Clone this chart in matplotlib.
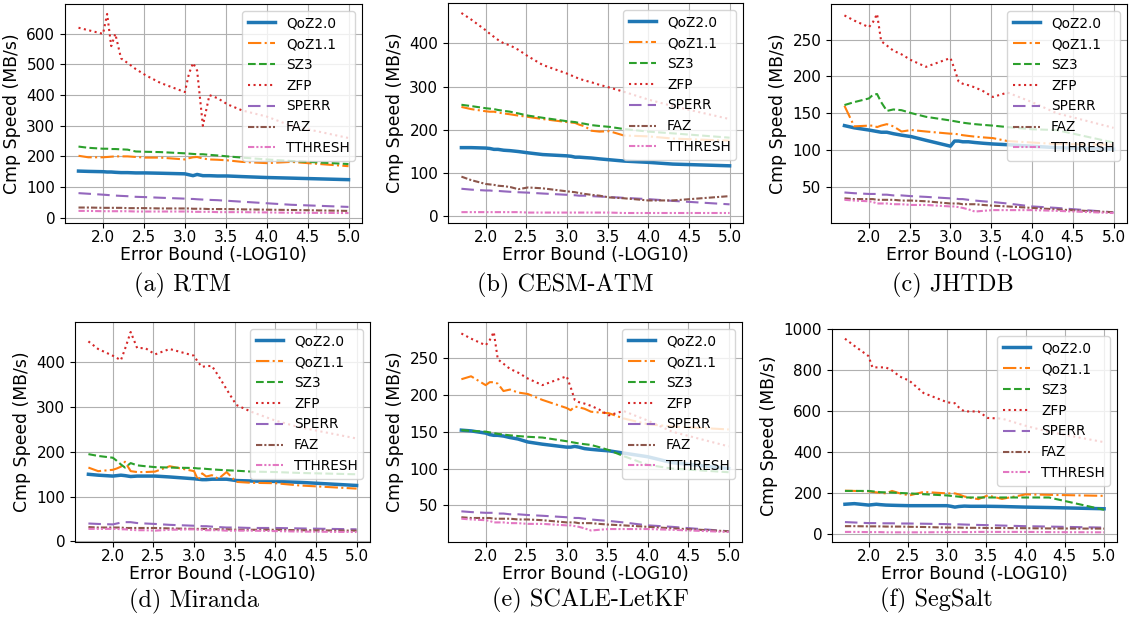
import matplotlib
matplotlib.use("Agg")
import matplotlib.pyplot as plt
from matplotlib.ticker import MultipleLocator

# ---------------------------------------------------------------------------
# Data
# ---------------------------------------------------------------------------
EB_X = [1.70, 1.82, 2.00, 2.05, 2.10, 2.15, 2.22, 2.30, 2.40, 2.52, 2.70, 3.00,
        3.05, 3.10, 3.15, 3.22, 3.30, 3.40, 3.52, 3.70, 4.00, 4.30, 5.00]

COMPRESSORS = ["QoZ2.0", "QoZ1.1", "SZ3", "ZFP", "SPERR", "FAZ", "TTHRESH"]
CAPTIONS = ["(a) RTM", "(b) CESM-ATM", "(c) JHTDB",
            "(d) Miranda", "(e) SCALE-LetKF", "(f) SegSalt"]

RTM_QOZ2 = [152, 151, 150, 149, 149, 148, 147, 147, 146, 146, 145, 143, 140, 137, 141, 137, 137, 136, 136, 134, 131, 129, 124]
RTM_QOZ1 = [202, 197, 197, 198, 199, 200, 200, 200, 198, 196, 196, 190, 194, 197, 198, 193, 190, 189, 187, 182, 178, 182, 168]
RTM_SZ3 = [232, 228, 225, 225, 224, 224, 223, 222, 216, 215, 214, 210, 209, 208, 207, 207, 205, 203, 200, 196, 190, 185, 175]
RTM_ZFP = [620, 612, 600, 665, 560, 600, 520, 505, 485, 465, 440, 410, 470, 505, 480, 300, 400, 390, 370, 350, 330, 300, 260]
RTM_SPERR = [80, 78, 75, 74, 73, 72, 71, 70, 68, 67, 65, 62, 61, 61, 60, 59, 58, 57, 55, 52, 47, 42, 35]
RTM_FAZ = [33, 33, 32, 32, 32, 32, 32, 31, 31, 31, 30, 30, 30, 29, 29, 29, 28, 28, 28, 27, 26, 25, 22]
RTM_TTHRESH = [22, 22, 21, 21, 21, 21, 21, 21, 20, 20, 20, 20, 20, 19, 19, 19, 19, 18, 18, 18, 17, 16, 15]

CESM_QOZ2 = [159, 159, 158, 157, 155, 155, 153, 152, 150, 147, 143, 140, 139, 137, 137, 136, 135, 133, 131, 128, 125, 121, 117]
CESM_QOZ1 = [253, 248, 243, 242, 242, 240, 238, 236, 233, 230, 225, 218, 217, 216, 212, 208, 198, 196, 197, 187, 185, 180, 175]
CESM_SZ3 = [258, 255, 250, 249, 248, 246, 244, 242, 238, 233, 228, 220, 219, 218, 216, 214, 211, 209, 207, 202, 196, 192, 182]
CESM_ZFP = [470, 455, 430, 422, 415, 408, 400, 395, 385, 370, 350, 330, 326, 322, 318, 314, 310, 304, 298, 288, 270, 255, 225]
CESM_SPERR = [64, 62, 60, 60, 59, 59, 58, 57, 56, 55, 53, 50, 49, 49, 48, 48, 47, 46, 45, 43, 40, 36, 28]
CESM_FAZ = [92, 84, 75, 74, 73, 71, 70, 68, 63, 67, 65, 58, 57, 56, 54, 52, 50, 48, 44, 42, 37, 37, 47]
CESM_TTHRESH = [10, 10, 10, 10, 10, 10, 10, 10, 10, 9, 9, 9, 9, 9, 9, 9, 9, 9, 9, 8, 8, 8, 8]

JHTDB_QOZ2 = [133, 130, 127, 126, 125, 124, 124, 122, 120, 118, 113, 105, 112, 112, 111, 111, 110, 109, 108, 107, 105, 103, 101]
JHTDB_QOZ1 = [160, 132, 133, 133, 131, 133, 135, 132, 125, 127, 125, 122, 122, 121, 120, 119, 118, 117, 116, 112, 110, 108, 107]
JHTDB_SZ3 = [161, 165, 170, 175, 176, 165, 153, 155, 154, 150, 145, 140, 139, 138, 137, 136, 135, 134, 133, 131, 128, 127, 110]
JHTDB_ZFP = [283, 276, 267, 274, 285, 248, 242, 235, 230, 222, 213, 225, 210, 193, 190, 188, 185, 180, 172, 178, 165, 150, 130]
JHTDB_SPERR = [42, 41, 40, 40, 40, 39, 39, 38, 38, 37, 36, 34, 34, 33, 33, 32, 31, 30, 29, 27, 23, 21, 15]
JHTDB_FAZ = [34, 33, 33, 33, 32, 32, 32, 32, 31, 31, 30, 27, 27, 27, 26, 26, 26, 25, 24, 23, 21, 19, 15]
JHTDB_TTHRESH = [32, 31, 30, 29, 27, 27, 27, 26, 26, 25, 25, 23, 23, 22, 21, 19, 16, 17, 18, 18, 18, 17, 14]

MIRANDA_QOZ2 = [150, 148, 146, 147, 148, 147, 145, 146, 146, 146, 144, 140, 139, 138, 138, 139, 139, 139, 136, 135, 134, 132, 125]
MIRANDA_QOZ1 = [165, 157, 160, 163, 167, 178, 157, 155, 155, 156, 168, 157, 137, 152, 145, 148, 140, 155, 133, 131, 130, 125, 118]
MIRANDA_SZ3 = [195, 191, 187, 180, 172, 165, 175, 170, 168, 166, 165, 164, 163, 163, 162, 161, 160, 159, 158, 156, 155, 153, 150]
MIRANDA_ZFP = [447, 430, 415, 410, 405, 430, 468, 432, 432, 418, 430, 415, 400, 390, 392, 392, 370, 340, 305, 290, 270, 255, 230]
MIRANDA_SPERR = [40, 39, 38, 40, 42, 43, 43, 41, 40, 39, 37, 35, 35, 34, 34, 33, 32, 31, 31, 30, 30, 29, 27]
MIRANDA_FAZ = [32, 31, 31, 31, 31, 30, 30, 30, 30, 30, 29, 28, 28, 28, 28, 27, 27, 27, 26, 26, 26, 25, 24]
MIRANDA_TTHRESH = [28, 28, 28, 28, 27, 27, 26, 25, 25, 24, 26, 27, 26, 26, 25, 25, 25, 24, 24, 24, 23, 22, 21]

SCALE_QOZ2 = [152, 151, 148, 146, 145, 145, 144, 142, 140, 136, 133, 129, 129, 130, 129, 127, 126, 125, 124, 121, 116, 108, 100]
SCALE_QOZ1 = [221, 225, 213, 217, 217, 215, 205, 207, 203, 201, 193, 182, 179, 184, 183, 181, 177, 176, 175, 168, 160, 157, 153]
SCALE_SZ3 = [152, 151, 150, 149, 148, 147, 146, 145, 144, 143, 142, 137, 136, 135, 134, 133, 132, 129, 125, 117, 105, 100, 95]
SCALE_ZFP = [283, 276, 267, 274, 285, 248, 242, 235, 230, 222, 213, 225, 210, 193, 190, 188, 185, 180, 172, 178, 165, 150, 130]
SCALE_SPERR = [42, 41, 40, 40, 40, 39, 39, 38, 38, 37, 36, 34, 34, 33, 33, 32, 31, 30, 29, 27, 23, 21, 15]
SCALE_FAZ = [34, 33, 33, 33, 32, 32, 32, 32, 31, 31, 30, 27, 27, 27, 26, 26, 26, 25, 24, 23, 21, 19, 15]
SCALE_TTHRESH = [32, 31, 30, 29, 27, 27, 27, 26, 26, 25, 25, 23, 23, 22, 21, 19, 16, 17, 18, 18, 18, 17, 14]

SEGSALT_QOZ2 = [147, 150, 143, 145, 147, 145, 143, 142, 141, 140, 140, 140, 137, 133, 136, 138, 137, 137, 137, 136, 133, 131, 125]
SEGSALT_QOZ1 = [213, 212, 210, 207, 205, 203, 200, 212, 200, 190, 207, 200, 200, 200, 195, 185, 178, 172, 190, 173, 195, 193, 188]
SEGSALT_SZ3 = [212, 212, 212, 210, 208, 206, 205, 204, 202, 200, 196, 190, 188, 186, 184, 180, 180, 180, 180, 180, 180, 180, 120]
SEGSALT_ZFP = [955, 920, 870, 815, 815, 815, 815, 800, 770, 750, 690, 645, 642, 640, 620, 600, 600, 600, 568, 565, 530, 500, 450]
SEGSALT_SPERR = [60, 58, 55, 55, 55, 54, 54, 54, 53, 53, 52, 50, 49, 49, 49, 48, 47, 46, 45, 43, 40, 38, 33]
SEGSALT_FAZ = [40, 40, 39, 39, 39, 39, 38, 38, 38, 37, 36, 33, 33, 33, 33, 32, 32, 32, 31, 31, 30, 29, 28]
SEGSALT_TTHRESH = [12, 12, 11, 11, 11, 11, 10, 10, 10, 10, 10, 11, 11, 11, 11, 11, 11, 12, 12, 12, 12, 11, 10]

PANELS = [
    [RTM_QOZ2, RTM_QOZ1, RTM_SZ3, RTM_ZFP, RTM_SPERR, RTM_FAZ, RTM_TTHRESH],
    [CESM_QOZ2, CESM_QOZ1, CESM_SZ3, CESM_ZFP, CESM_SPERR, CESM_FAZ, CESM_TTHRESH],
    [JHTDB_QOZ2, JHTDB_QOZ1, JHTDB_SZ3, JHTDB_ZFP, JHTDB_SPERR, JHTDB_FAZ, JHTDB_TTHRESH],
    [MIRANDA_QOZ2, MIRANDA_QOZ1, MIRANDA_SZ3, MIRANDA_ZFP, MIRANDA_SPERR, MIRANDA_FAZ, MIRANDA_TTHRESH],
    [SCALE_QOZ2, SCALE_QOZ1, SCALE_SZ3, SCALE_ZFP, SCALE_SPERR, SCALE_FAZ, SCALE_TTHRESH],
    [SEGSALT_QOZ2, SEGSALT_QOZ1, SEGSALT_SZ3, SEGSALT_ZFP, SEGSALT_SPERR, SEGSALT_FAZ, SEGSALT_TTHRESH],
]

# ---------------------------------------------------------------------------
# Styles / layout
# ---------------------------------------------------------------------------
COLORS = ["C0", "C1", "C2", "C3", "C4", "C5", "C6"]
STYLES = ["-", "-.", "--", ":", (0, (6, 3)), (0, (3, 1, 1, 1)), (0, (3, 1, 1, 1, 1, 1))]
WIDTHS = [2.5, 1.5, 1.5, 1.5, 1.5, 1.5, 1.5]

W, H = 1134, 622
# (left, right, top, bottom) of each axes box in pixels
BOXES = [
    (65, 362, 4, 223),
    (448, 743, 3, 223),
    (831, 1127, 4, 223),
    (75, 370, 322, 542),
    (448, 742, 322, 542),
    (832, 1117, 329, 542),
]
Y_STEP = [100, 100, 50, 100, 50, 200]
# caption centres in pixels
CAP_POS = [(182, 285), (565, 285), (953, 285), (194, 601), (590, 600), (936, 600)]

LABEL_FS = 12.4
TICK_FS = 11
LEGEND_FS = 9.8
CAPTION_FS = 17.5


def main() -> None:
    fig = plt.figure(figsize=(W / 100, H / 100), dpi=100)

    for i, series in enumerate(PANELS):
        l, r, t, b = BOXES[i]
        ax = fig.add_axes([l / W, 1 - b / H, (r - l) / W, (b - t) / H])
        for name, vals, c, ls, lw in zip(COMPRESSORS, series, COLORS, STYLES, WIDTHS):
            ax.plot(EB_X, vals, color=c, linestyle=ls, linewidth=lw, label=name)
        ax.grid(True)
        ax.set_xticks([2.0, 2.5, 3.0, 3.5, 4.0, 4.5, 5.0])
        ax.yaxis.set_major_locator(MultipleLocator(Y_STEP[i]))
        ax.tick_params(labelsize=TICK_FS)
        ax.tick_params(axis="x", pad=1.5)
        ax.set_xlabel("Error Bound (-LOG10)", fontsize=LABEL_FS, labelpad=1)
        ax.set_ylabel("Cmp Speed (MB/s)", fontsize=LABEL_FS)
        ax.legend(loc="upper right", fontsize=LEGEND_FS)

        cx, cy = CAP_POS[i]
        fig.text(cx / W, 1 - cy / H, CAPTIONS[i], family="cmr10",
                 fontsize=CAPTION_FS, ha="center", va="center")

    fig.savefig("out.png", dpi=100)
    plt.close(fig)


if __name__ == "__main__":
    main()
